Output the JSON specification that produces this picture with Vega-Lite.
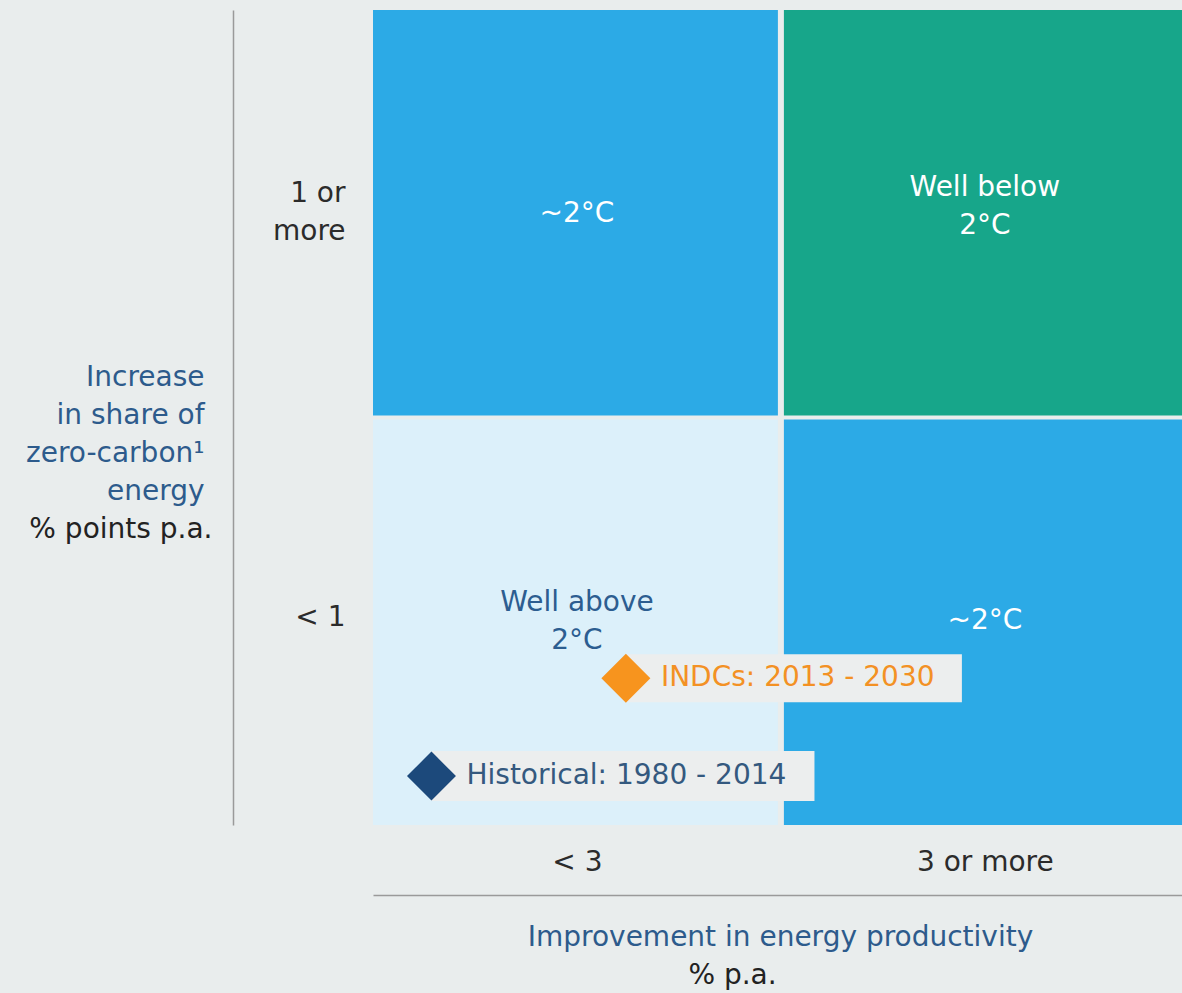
{
  "$schema": "https://vega.github.io/schema/vega-lite/v6.json",
  "description": "Energy productivity vs zero-carbon share matrix",
  "width": 809,
  "height": 815,
  "autosize": "none",
  "padding": {"left": 373, "top": 10, "right": 0, "bottom": 168},
  "background": "#e9eded",
  "config": {
    "view": {"stroke": null},
    "font": "DejaVu Sans",
    "axis": {"labelFont": "DejaVu Sans", "titleFont": "DejaVu Sans", "titleFontWeight": "normal", "grid": false}
  },
  "datasets": {
    "cells": [
      {"prod_from": 0, "prod_to": 3, "share_from": 1, "share_to": 2, "prod_mid": 1.5, "share_mid": 1.5, "outcome": "~2°C", "label": "~2°C"},
      {"prod_from": 3, "prod_to": 6, "share_from": 1, "share_to": 2, "prod_mid": 4.5, "share_mid": 1.5, "outcome": "Well below 2°C", "label": "Well below\n2°C"},
      {"prod_from": 0, "prod_to": 3, "share_from": 0, "share_to": 1, "prod_mid": 1.5, "share_mid": 0.5, "outcome": "Well above 2°C", "label": "Well above\n2°C"},
      {"prod_from": 3, "prod_to": 6, "share_from": 0, "share_to": 1, "prod_mid": 4.5, "share_mid": 0.5, "outcome": "~2°C", "label": "~2°C"}
    ],
    "pathways": [
      {"pathway": "Historical: 1980 - 2014", "productivity": 0.43, "share": 0.12},
      {"pathway": "INDCs: 2013 - 2030", "productivity": 1.86, "share": 0.36}
    ]
  },
  "resolve": {
    "axis": {"x": "independent", "y": "independent"},
    "scale": {"color": "independent"}
  },
  "layer": [
    {
      "data": {"name": "cells"},
      "mark": {"type": "rect", "clip": true},
      "encoding": {
        "x": {
          "field": "prod_from", "type": "quantitative",
          "scale": {"domain": [0, 5.95], "nice": false},
          "axis": {
            "orient": "bottom", "offset": 70, "values": [1.5, 4.5],
            "labelExpr": "datum.value < 3 ? '< 3' : '3 or more'",
            "domainColor": "#9a9a9a", "domainWidth": 1.5,
            "ticks": false, "tickSize": 0,
            "labelPadding": -33, "labelBaseline": "middle", "labelFontSize": 28,
            "labelColor": "#2b2b2b", "labelFlush": false, "labelOverlap": false,
            "title": "Improvement in energy productivity", "titleColor": "#2d5b8c",
            "titleFontSize": 28, "titleX": 407, "titleY": 42, "titleAlign": "center", "titleBaseline": "middle"
          }
        },
        "x2": {"field": "prod_to"},
        "y": {
          "field": "share_from", "type": "quantitative",
          "scale": {"domain": [0, 2], "nice": false},
          "axis": {
            "orient": "left", "offset": 140, "values": [0.5, 1.5],
            "labelExpr": "datum.value > 1 ? ['1 or', 'more'] : '< 1'",
            "domainColor": "#9a9a9a", "domainWidth": 1.5,
            "ticks": false, "tickSize": 0,
            "labelPadding": -112, "labelAlign": "right", "labelBaseline": "middle",
            "labelOffset": {"condition": {"test": "datum.value > 1", "value": -20}, "value": -4},
            "labelFontSize": 28, "labelLineHeight": 38,
            "labelColor": "#2b2b2b", "labelFlush": false, "labelOverlap": false,
            "title": ["Increase", "in share of", "zero-carbon¹", "energy"],
            "titleColor": "#2d5b8c", "titleFontSize": 28, "titleLineHeight": 38,
            "titleAngle": 0, "titleAlign": "right", "titleBaseline": "middle",
            "titleX": -29, "titleY": 367
          }
        },
        "y2": {"field": "share_to"},
        "color": {
          "field": "outcome", "type": "nominal",
          "scale": {"domain": ["~2°C", "Well below 2°C", "Well above 2°C"], "range": ["#2caae6", "#17a68a", "#dcf0fa"]},
          "legend": null
        }
      }
    },
    {
      "data": {"values": [{"productivity": 3}]},
      "mark": {"type": "rule", "color": "#e9eded", "strokeWidth": 6},
      "encoding": {
        "x": {"field": "productivity", "type": "quantitative", "axis": null}
      }
    },
    {
      "data": {"values": [{"share": 1}]},
      "mark": {"type": "rule", "color": "#e9eded", "strokeWidth": 4},
      "encoding": {
        "y": {"field": "share", "type": "quantitative", "axis": null}
      }
    },
    {
      "data": {"name": "cells"},
      "transform": [{"filter": "datum.outcome === '~2°C'"}],
      "mark": {"type": "text", "fontSize": 28, "align": "center", "baseline": "middle", "color": "#ffffff"},
      "encoding": {
        "x": {"field": "prod_mid", "type": "quantitative", "axis": null},
        "y": {"field": "share_mid", "type": "quantitative", "axis": null},
        "text": {"field": "label"}
      }
    },
    {
      "data": {"name": "cells"},
      "transform": [{"filter": "datum.outcome === 'Well below 2°C'"}],
      "mark": {"type": "text", "fontSize": 28, "lineBreak": "\n", "lineHeight": 38, "align": "center", "baseline": "middle", "dy": -26, "color": "#ffffff"},
      "encoding": {
        "x": {"field": "prod_mid", "type": "quantitative", "axis": null},
        "y": {"field": "share_mid", "type": "quantitative", "axis": null},
        "text": {"field": "label"}
      }
    },
    {
      "data": {"name": "cells"},
      "transform": [{"filter": "datum.outcome === 'Well above 2°C'"}],
      "mark": {"type": "text", "fontSize": 28, "lineBreak": "\n", "lineHeight": 38, "align": "center", "baseline": "middle", "dy": -18, "color": "#2c5d90"},
      "encoding": {
        "x": {"field": "prod_mid", "type": "quantitative", "axis": null},
        "y": {"field": "share_mid", "type": "quantitative", "axis": null},
        "text": {"field": "label"}
      }
    },
    {
      "data": {"name": "pathways"},
      "transform": [{"filter": "datum.pathway === 'INDCs: 2013 - 2030'"}],
      "mark": {"type": "point", "shape": "M0,-0.24L3.36,-0.24L3.36,0.24L0,0.24Z", "size": 40000, "filled": true, "color": "#eceeee", "opacity": 1, "strokeWidth": 0},
      "encoding": {
        "x": {"field": "productivity", "type": "quantitative", "axis": null},
        "y": {"field": "share", "type": "quantitative", "axis": null}
      }
    },
    {
      "data": {"name": "pathways"},
      "transform": [{"filter": "datum.pathway === 'Historical: 1980 - 2014'"}],
      "mark": {"type": "point", "shape": "M0,-0.25L3.83,-0.25L3.83,0.25L0,0.25Z", "size": 40000, "filled": true, "color": "#eceeee", "opacity": 1, "strokeWidth": 0},
      "encoding": {
        "x": {"field": "productivity", "type": "quantitative", "axis": null},
        "y": {"field": "share", "type": "quantitative", "axis": null}
      }
    },
    {
      "data": {"name": "pathways"},
      "mark": {"type": "point", "shape": "diamond", "size": 2400, "filled": true, "opacity": 1, "strokeWidth": 0},
      "encoding": {
        "x": {
          "field": "productivity", "type": "quantitative",
          "axis": {
            "orient": "bottom", "offset": 70, "domain": false, "labels": false, "ticks": false, "grid": false,
            "title": "% p.a.", "titleColor": "#222222", "titleFontSize": 28,
            "titleX": 359, "titleY": 80, "titleAlign": "center", "titleBaseline": "middle"
          }
        },
        "y": {
          "field": "share", "type": "quantitative",
          "axis": {
            "orient": "left", "offset": 140, "domain": false, "labels": false, "ticks": false, "grid": false,
            "title": "% points p.a.", "titleColor": "#222222", "titleFontSize": 28,
            "titleAngle": 0, "titleAlign": "right", "titleBaseline": "middle",
            "titleX": -21, "titleY": 519
          }
        },
        "color": {
          "field": "pathway", "type": "nominal",
          "scale": {"domain": ["Historical: 1980 - 2014", "INDCs: 2013 - 2030"], "range": ["#1c497b", "#f7941e"]},
          "legend": null
        }
      }
    },
    {
      "data": {"name": "pathways"},
      "mark": {"type": "text", "fontSize": 28, "align": "left", "baseline": "middle", "dx": 35},
      "encoding": {
        "x": {"field": "productivity", "type": "quantitative", "axis": null},
        "y": {"field": "share", "type": "quantitative", "axis": null},
        "text": {"field": "pathway"},
        "color": {
          "condition": {"test": "datum.pathway === 'INDCs: 2013 - 2030'", "value": "#f39124"},
          "value": "#34597f"
        }
      }
    }
  ]
}
